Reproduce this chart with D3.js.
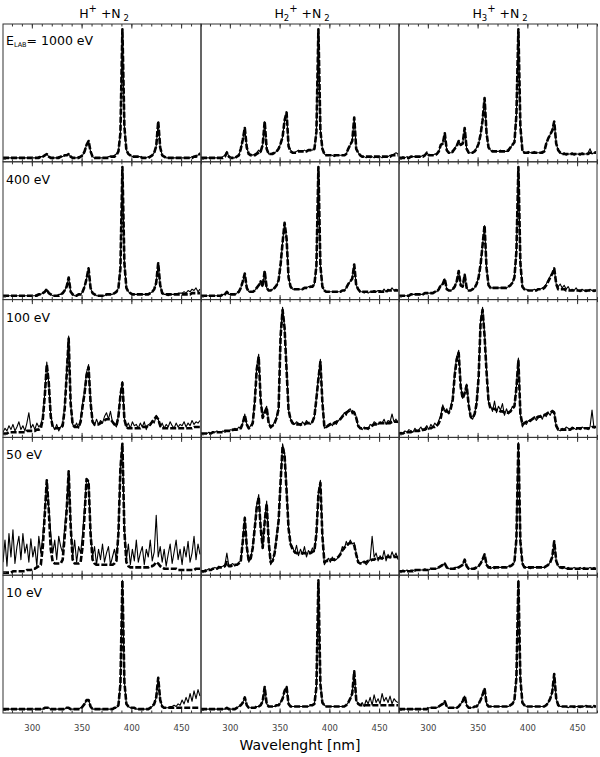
<!DOCTYPE html>
<html><head><meta charset="utf-8">
<script src="https://cdn.jsdelivr.net/npm/d3@7"></script>
<style>body{margin:0;background:#fff}</style>
</head><body>
<svg id="c" width="600" height="757"></svg>
<script>
// sampling grid (nm)
const wavelengths = d3.range(271, 470, 2);
const projectiles = ["", "2", "3"];           // H+, H2+, H3+
const energies = ["1000 eV", "400 eV", "100 eV", "50 eV", "10 eV"];
const xTicks = [300, 350, 400, 450];
const xMinorTicks = d3.range(280, 471, 10);

// ---- intensities (% of panel scale), measured spectra and fits ----
const h1_e1000 = [1,1,1,1,1,1,1,1,1,1, 1,1,1,1,1,1,1,1,2,2, 2,3,4,2,1,1,1,1,2,2, 2,3,3,4,2,1,1,1,2,2, 3,6,11,14,6,2,1,1,1,1, 1,1,1,2,2,2,3,4,6,20, 100,25,7,4,3,2,2,2,2,2, 1,1,1,2,2,3,5,10,29,9, 3,2,1,1,1,1,1,1,1,1, 1,1,1,1,1,2,2,3,3,5];
const h1_e1000_fit = [1,1,1,1,1,1,1,1,1,1, 1,1,1,1,1,1,1,1,1,2, 2,3,4,2,1,1,1,1,1,2, 2,3,3,4,2,1,1,1,1,2, 3,6,11,14,6,2,1,1,1,1, 1,1,1,1,2,2,2,3,6,20, 100,25,7,4,3,2,2,2,2,2, 1,1,1,1,2,3,5,10,29,9, 3,2,1,1,1,1,1,1,1,1, 1,1,1,1,1,1,2,2,3,4];
const h2_e1000 = [1,1,1,1,1,1,1,1,1,1, 1,2,3,6,2,1,1,1,2,3, 8,15,24,9,4,4,3,4,5,7, 5,11,29,8,4,4,5,5,6,8, 12,17,30,36,10,7,5,5,6,7, 6,6,7,6,7,7,7,8,21,100, 22,8,4,3,3,3,3,2,3,3, 3,3,3,4,8,11,14,32,8,5, 3,2,2,1,2,1,2,1,2,1, 2,1,2,2,2,3,3,4,5,4];
const h2_e1000_fit = [1,1,1,1,1,1,1,1,1,1, 1,1,2,5,2,1,1,1,2,3, 8,15,24,9,4,3,3,3,4,5, 6,11,29,8,4,4,4,5,6,8, 12,17,30,36,10,6,5,5,5,6, 6,6,6,6,7,7,7,8,21,100, 22,8,4,3,3,3,3,3,3,3, 3,3,3,4,8,11,14,32,8,5, 3,2,2,2,2,2,2,2,2,2, 2,2,2,2,2,2,3,3,3,3];
const h3_e1000 = [1,1,2,1,2,1,2,2,2,2, 2,2,3,3,5,3,3,3,4,4, 6,11,12,20,7,5,5,5,8,11, 14,11,12,24,8,5,5,5,6,9, 12,19,30,47,20,9,7,6,6,6, 6,7,6,6,6,6,9,11,13,34, 100,25,7,5,5,6,5,5,6,5, 5,5,6,6,12,16,19,22,29,12, 7,5,4,5,3,4,4,5,3,4, 4,3,5,4,4,5,8,4,5,6];
const h3_e1000_fit = [1,1,1,1,1,1,2,2,2,2, 2,2,2,3,5,3,3,3,3,4, 6,11,12,20,7,5,5,6,8,10, 14,11,12,24,8,5,5,5,6,8, 12,19,30,47,20,9,7,6,6,6, 6,6,6,6,6,7,9,11,13,34, 100,25,7,5,5,5,5,5,5,5, 5,5,5,6,12,16,19,22,29,12, 7,5,4,4,4,4,4,4,4,4, 4,4,4,4,4,4,5,5,5,5];

const h1_e400 = [1,1,1,1,1,1,1,1,1,1, 1,1,1,1,1,1,1,2,2,2, 3,4,6,3,2,1,1,1,2,2, 3,5,8,15,4,2,1,1,2,2, 4,8,14,22,7,3,2,1,1,1, 1,1,2,2,2,2,3,4,7,22, 100,26,7,4,3,2,2,2,2,2, 2,2,2,2,3,4,6,11,26,9, 3,2,2,1,2,2,2,2,3,3, 3,4,3,5,4,6,5,7,4,6];
const h1_e400_fit = [1,1,1,1,1,1,1,1,1,1, 1,1,1,1,1,1,1,1,2,2, 3,4,6,3,2,1,1,1,1,2, 3,5,8,15,4,2,1,1,2,2, 4,8,14,22,7,3,2,1,1,1, 1,1,2,2,2,2,3,4,7,22, 100,26,7,4,3,2,2,2,2,2, 2,2,2,2,3,4,6,11,26,9, 3,2,2,2,2,2,2,2,2,2, 2,2,2,2,2,3,3,3,3,3];
const h2_e400 = [1,1,1,1,1,1,1,1,1,1, 1,2,2,4,2,2,2,2,3,4, 7,12,18,7,4,4,4,5,7,9, 12,8,20,7,5,5,6,7,9,13, 25,42,57,45,15,8,6,6,6,6, 6,6,7,7,8,8,8,10,24,100, 24,8,5,4,4,4,4,4,4,4, 4,5,5,7,10,12,14,25,9,6, 4,4,3,4,3,4,4,5,4,5, 5,4,6,4,6,5,7,5,6,5];
const h2_e400_fit = [1,1,1,1,1,1,1,1,1,1, 1,2,2,4,2,2,2,2,3,4, 7,12,18,7,4,4,4,5,7,9, 12,8,20,7,5,5,6,7,9,13, 25,42,57,45,15,8,6,6,6,6, 6,6,7,7,7,8,8,10,24,100, 24,8,5,4,4,4,4,4,4,4, 4,5,5,7,10,12,14,25,9,6, 4,4,4,4,4,4,4,4,4,4, 4,4,4,4,5,5,5,5,5,5];
const h3_e400 = [1,1,1,1,1,1,2,2,2,2, 2,2,2,3,3,3,3,3,4,4, 6,9,10,14,6,5,5,6,8,12, 20,9,8,17,7,5,5,6,7,10, 15,25,40,55,22,9,7,7,7,7, 7,7,7,7,7,8,9,11,15,35, 100,26,8,6,6,5,5,5,6,5, 6,6,7,8,10,13,16,18,22,10, 8,10,7,9,6,8,5,6,5,7, 5,4,6,5,4,5,6,5,4,5];
const h3_e400_fit = [1,1,1,1,1,1,2,2,2,2, 2,2,2,3,3,3,3,3,4,4, 6,9,10,14,6,5,5,6,8,12, 20,9,8,17,7,5,5,6,7,10, 15,25,40,55,22,9,7,7,7,7, 7,7,7,7,7,8,9,11,15,35, 100,26,8,6,6,5,5,5,5,5, 6,6,6,7,9,12,15,18,22,10, 6,6,6,6,5,5,5,5,5,5, 5,5,5,5,5,5,5,5,5,5];

const h1_e100 = [2,5,3,7,4,8,3,6,10,4, 7,3,9,17,5,8,4,9,6,8, 14,32,56,40,15,7,4,8,3,6, 9,22,48,76,24,8,6,9,5,12, 24,34,48,54,26,10,7,12,8,11, 9,14,17,12,18,10,8,6,15,31, 41,12,6,9,5,10,7,8,5,9, 6,10,4,8,7,11,9,15,12,6, 9,5,8,6,10,7,5,9,6,8, 7,10,6,9,7,11,8,10,9,11];
const h1_e100_fit = [1,1,1,2,2,2,2,2,2,2, 2,2,3,3,3,3,3,4,4,5, 12,30,54,40,14,6,5,5,5,5, 7,20,46,74,24,8,6,6,6,10, 22,32,46,52,25,10,8,8,8,9, 10,11,12,12,12,10,8,7,14,30, 40,12,6,5,5,5,5,5,5,5, 6,6,6,7,8,10,12,14,12,7, 5,5,5,5,5,5,5,5,5,5, 5,5,5,5,5,5,6,6,6,6];
const h2_e100 = [0,1,1,1,2,1,2,2,3,2, 2,3,2,3,3,4,3,5,4,6, 5,9,16,8,5,7,10,26,52,62, 26,14,18,22,10,5,7,10,14,20, 78,98,83,52,19,12,10,8,10,9, 7,10,8,11,9,8,11,14,29,44, 58,26,5,6,8,9,7,10,8,11, 12,14,17,15,19,20,16,18,14,6, 5,4,6,5,4,8,7,10,9,8, 10,9,12,8,11,10,16,10,12,9];
const h2_e100_fit = [1,1,1,1,1,1,2,2,2,2, 2,2,3,3,3,3,4,4,4,5, 5,9,15,8,5,6,9,25,50,60, 26,13,17,21,9,6,7,9,13,20, 76,96,82,50,19,12,9,8,8,8, 8,8,8,9,9,9,10,14,28,43, 56,25,6,6,7,8,8,9,10,11, 12,14,16,17,18,19,18,17,13,7, 5,5,5,5,5,6,7,8,8,9, 9,9,9,9,9,9,10,10,10,10];
const h3_e100 = [1,2,1,3,2,4,3,2,5,3, 4,6,3,5,7,4,8,6,9,7, 11,15,23,18,20,16,22,28,48,60, 65,38,28,32,39,24,13,12,16,25, 45,88,98,78,50,25,22,18,26,17, 22,19,24,15,20,16,18,22,21,37, 59,16,6,9,8,11,10,12,14,11, 13,15,12,16,14,17,15,19,18,6, 4,3,5,4,6,5,4,6,5,4, 5,4,6,5,5,4,6,19,5,6];
const h3_e100_fit = [1,1,1,2,2,2,2,3,3,3, 3,4,4,4,5,5,5,6,6,7, 9,13,21,18,18,17,20,27,46,58, 63,37,28,32,38,23,14,13,16,24, 44,86,96,76,48,26,20,20,20,19, 19,18,18,17,17,17,18,20,22,36, 57,16,8,9,10,11,11,12,13,13, 14,14,15,15,16,17,17,18,17,7, 4,4,4,4,4,4,4,5,5,5, 5,5,5,5,5,5,5,6,6,6];

const h1_e50 = [8,25,5,30,12,33,7,20,28,10, 30,15,22,8,26,12,20,5,28,15, 28,48,71,50,30,15,25,10,28,20, 15,35,50,78,38,12,25,8,20,15, 30,50,72,70,32,12,20,6,18,10, 22,8,15,20,6,12,18,10,30,82, 99,35,10,22,6,18,9,25,8,15, 20,6,18,12,25,9,16,44,12,20, 8,18,5,14,22,7,16,25,10,18, 6,20,12,24,8,15,28,10,22,14];
const h1_e50_fit = [0,0,0,0,0,1,1,1,1,1, 1,1,2,2,2,3,3,4,5,6, 20,45,71,48,18,8,7,7,7,7, 10,28,48,78,36,10,7,7,7,8, 20,45,72,70,30,10,7,6,6,6, 6,6,6,6,6,6,7,9,30,80, 99,32,8,5,4,4,4,4,4,4, 4,4,4,4,5,5,6,8,7,5, 4,3,3,3,3,3,3,3,2,2, 2,2,2,2,2,2,2,3,3,3];
const h2_e50 = [1,1,2,2,3,2,3,4,3,5, 4,5,6,15,5,6,7,5,6,8, 9,25,43,20,8,11,20,35,52,60, 35,19,40,55,25,6,9,15,28,40, 70,99,92,65,35,22,20,15,21,13, 18,14,20,12,17,15,19,16,30,62, 71,30,6,9,11,8,12,9,10,12, 14,20,18,24,21,25,22,23,15,8, 7,8,9,6,8,10,28,12,15,9, 13,10,17,9,14,11,16,12,15,10];
const h2_e50_fit = [1,1,1,2,2,2,3,3,3,4, 4,4,5,8,5,5,6,6,6,7, 9,24,42,20,9,11,19,34,50,58, 34,19,39,53,24,8,9,15,27,40, 70,97,90,63,34,22,18,16,15,15, 15,15,15,15,15,15,16,17,30,60, 69,28,8,9,9,10,10,10,11,12, 14,17,19,21,22,23,22,21,14,8, 7,7,8,8,9,9,10,10,11,11, 11,11,12,12,12,12,12,12,12,12];
const h3_e50 = [1,1,2,1,2,1,2,2,1,2, 2,2,2,3,2,2,3,3,3,3, 4,5,6,7,4,3,3,3,4,4, 4,5,6,10,5,3,3,3,4,4, 5,7,10,14,6,4,3,4,3,4, 4,4,4,4,4,5,5,6,8,26, 100,24,7,4,4,4,3,4,4,4, 4,4,4,4,5,6,8,12,24,9, 5,4,3,4,3,4,3,3,4,3, 3,4,3,4,3,3,4,3,4,3];
const h3_e50_fit = [1,1,1,1,1,1,1,1,2,2, 2,2,2,2,2,2,3,3,3,3, 4,5,6,7,4,3,3,3,3,4, 4,5,6,10,5,3,3,3,3,4, 5,7,10,14,6,4,4,4,4,4, 4,4,4,4,4,5,5,6,8,26, 100,24,7,4,4,4,4,4,4,4, 4,4,4,4,5,6,8,12,24,9, 5,4,4,4,3,3,3,3,3,3, 3,3,3,3,3,3,3,3,3,3];

const h1_e10 = [1,1,1,1,1,1,1,1,1,1, 1,1,1,1,1,1,1,1,1,1, 1,2,2,2,1,1,1,1,1,1, 1,1,2,2,1,1,1,1,1,2, 3,5,8,8,3,1,1,1,1,1, 1,1,1,1,1,1,2,2,4,20, 100,22,5,3,2,2,2,1,1,1, 1,1,1,1,2,3,5,10,25,8, 3,2,2,2,3,3,4,3,5,4, 8,5,10,6,13,7,15,9,16,11];
const h1_e10_fit = [1,1,1,1,1,1,1,1,1,1, 1,1,1,1,1,1,1,1,1,1, 1,2,2,2,1,1,1,1,1,1, 1,1,2,2,1,1,1,1,1,1, 3,5,8,8,3,1,1,1,1,1, 1,1,1,1,1,1,2,2,4,20, 100,22,5,3,2,2,2,1,1,1, 1,1,1,1,2,3,5,10,25,8, 3,2,2,2,2,2,2,2,2,2, 2,2,2,2,2,2,2,2,2,2];
const h2_e10 = [1,1,1,1,1,1,1,1,1,1, 1,1,1,2,1,1,1,1,2,3, 4,6,10,4,2,2,2,2,3,3, 4,7,18,5,3,3,3,3,4,4, 6,9,15,18,5,3,3,3,3,3, 3,3,3,3,3,4,4,5,18,100, 20,6,4,3,3,3,3,3,3,3, 3,3,3,4,6,9,13,30,8,5, 4,6,3,8,5,10,4,12,6,9, 5,13,7,10,6,11,5,9,7,6];
const h2_e10_fit = [1,1,1,1,1,1,1,1,1,1, 1,1,1,2,1,1,1,1,2,3, 4,6,10,4,2,2,2,2,3,3, 4,7,18,5,3,3,3,3,4,4, 6,9,15,18,5,3,3,3,3,3, 3,3,3,3,3,4,4,5,18,100, 20,6,4,3,3,3,3,3,3,3, 3,3,3,4,6,9,13,30,8,5, 4,4,4,4,4,4,4,4,4,4, 4,4,4,4,4,4,4,4,4,4];
const h3_e10 = [1,1,1,1,1,1,1,1,1,1, 1,1,1,1,1,2,2,2,2,2, 3,4,5,7,3,2,2,2,2,2, 3,5,7,11,4,2,2,2,3,3, 5,8,12,17,5,3,3,3,3,3, 3,3,3,3,3,3,4,5,8,25, 100,24,6,4,3,3,3,3,3,3, 3,3,3,3,4,6,9,14,28,9, 4,3,3,3,3,2,3,3,2,3, 3,2,3,3,4,3,3,2,4,3];
const h3_e10_fit = [1,1,1,1,1,1,1,1,1,1, 1,1,1,1,1,2,2,2,2,2, 3,4,5,7,3,2,2,2,2,2, 3,5,7,11,4,2,2,2,3,3, 5,8,12,17,5,3,3,3,3,3, 3,3,3,3,3,3,4,5,8,25, 100,24,6,4,3,3,3,3,3,3, 3,3,3,3,4,6,9,14,28,9, 4,3,3,3,3,3,3,3,3,3, 3,3,3,3,3,3,3,3,3,3];

const grid = [
  [[h1_e1000, h1_e1000_fit], [h2_e1000, h2_e1000_fit], [h3_e1000, h3_e1000_fit]],
  [[h1_e400, h1_e400_fit], [h2_e400, h2_e400_fit], [h3_e400, h3_e400_fit]],
  [[h1_e100, h1_e100_fit], [h2_e100, h2_e100_fit], [h3_e100, h3_e100_fit]],
  [[h1_e50, h1_e50_fit], [h2_e50, h2_e50_fit], [h3_e50, h3_e50_fit]],
  [[h1_e10, h1_e10_fit], [h2_e10, h2_e10_fit], [h3_e10, h3_e10_fit]]
];

// ---- layout ----
const svg = d3.select("#c");
const colScale = d3.scaleBand().domain(d3.range(3)).range([3, 597]);
const rowScale = d3.scaleBand().domain(d3.range(5)).range([24, 713]);
const pw = colScale.bandwidth(), ph = rowScale.bandwidth();
const x = d3.scaleLinear().domain([271, 470]).range([0, pw]);
const y = d3.scaleLinear().domain([-2, 104]).range([ph, 0]);
const line = d3.line().x((d, i) => x(wavelengths[i])).y(d => y(d));
const FONT = "DejaVu Sans, Liberation Sans, Arial, sans-serif";

svg.append("defs").append("clipPath").attr("id", "clip")
  .append("rect").attr("width", pw).attr("height", ph);

grid.forEach((row, r) => {
  row.forEach((pair, c) => {
    const g = svg.append("g").attr("transform", `translate(${colScale(c)},${rowScale(r)})`);
    const pg = g.append("g").attr("clip-path", "url(#clip)");
    pg.append("path").datum(pair[0]).attr("d", line)
      .attr("fill", "none").attr("stroke", "#000").attr("stroke-width", 1.1)
      .attr("stroke-linejoin", "round");
    pg.append("path").datum(pair[1]).attr("d", line)
      .attr("fill", "none").attr("stroke", "#000").attr("stroke-width", 2.6)
      .attr("stroke-dasharray", "6,2").attr("stroke-linejoin", "round");
    // frame
    g.append("rect").attr("width", pw).attr("height", ph)
      .attr("fill", "none").attr("stroke", "#333").attr("stroke-width", 1);
    // ticks: bottom (inward) and top (inward)
    const bottomAx = d3.axisBottom(x).tickValues(xMinorTicks).tickSize(-2.5).tickFormat("");
    const bottomMaj = d3.axisBottom(x).tickValues(xTicks).tickSize(-4.5).tickFormat("");
    const topAx = d3.axisTop(x).tickValues(xMinorTicks).tickSize(-2.5).tickFormat("");
    const topMaj = d3.axisTop(x).tickValues(xTicks).tickSize(-4.5).tickFormat("");
    [bottomAx, bottomMaj].forEach(a => g.append("g").attr("transform", `translate(0,${ph})`).call(a));
    [topAx, topMaj].forEach(a => g.append("g").call(a));
    g.selectAll(".domain").remove();
    g.selectAll(".tick line").attr("stroke", "#333");
    // left zero tick
    g.append("line").attr("x1", 0).attr("x2", 3).attr("y1", y(0)).attr("y2", y(0)).attr("stroke", "#333");
    // tick labels on the bottom row
    if (r === 4) {
      const lab = d3.axisBottom(x).tickValues(xTicks).tickSize(0).tickPadding(12);
      const la = g.append("g").attr("transform", `translate(0,${ph})`).call(lab);
      la.select(".domain").remove();
      la.selectAll("text").attr("font-family", FONT).attr("font-size", 8.5).attr("fill", "#444");
    }
    // energy label in first column
    if (c === 0) {
      const t = g.append("text").attr("x", 3).attr("y", r === 0 ? 21 : 22)
        .attr("font-family", FONT).attr("font-size", 12.5).attr("fill", "#000");
      if (r === 0) {
        t.append("tspan").text("E");
        t.append("tspan").attr("font-size", 6.5).attr("dy", 2).text("LAB");
        t.append("tspan").attr("dy", -2).text("=  " + energies[r]);
      } else {
        t.text(energies[r]);
      }
    }
  });
});

// column titles
projectiles.forEach((n, c) => {
  const t = svg.append("text").attr("x", colScale(c) + pw / 2 + 2).attr("y", 18)
    .attr("text-anchor", "middle").attr("font-family", FONT).attr("font-size", 12.5).attr("fill", "#000");
  t.append("tspan").text("H");
  if (n) {
    t.append("tspan").attr("font-size", 8.5).attr("dy", 3).text(n);
    t.append("tspan").attr("font-size", 10).attr("dy", -9).text("+");
  } else {
    t.append("tspan").attr("font-size", 10).attr("dy", -6).text("+");
  }
  t.append("tspan").attr("dy", 6).text(" +N");
  t.append("tspan").attr("font-size", 8.5).attr("dy", 3).text(" 2");
});

// x axis title
svg.append("text").attr("x", 300).attr("y", 750).attr("text-anchor", "middle")
  .attr("font-family", FONT).attr("font-size", 14).attr("fill", "#000").text("Wavelenght [nm]");
</script>
</body></html>
